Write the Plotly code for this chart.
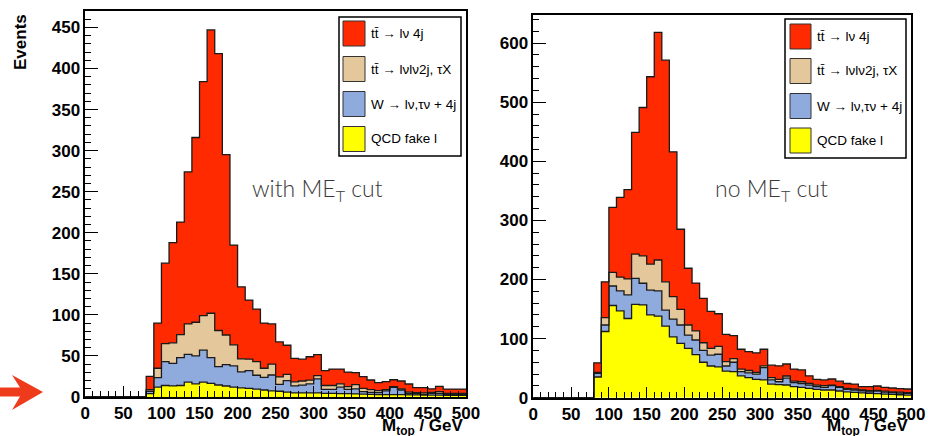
import numpy as np
import plotly.graph_objects as go

W, H = 928, 436

# bin left edges (GeV), 10 GeV bins, 0..500
bin_edges = list(range(0, 510, 10))
first_filled = 80  # bins below 80 GeV are empty

# ---------------- left panel: with MET cut (events per bin, per component) ----
left_qcd = [4, 12, 14, 13.5, 14, 18, 16, 18, 16.5, 14.6, 13.4, 12, 11.2, 10.5, 9.5, 8.5,
            7.5, 7, 6, 5, 5, 5, 5, 4.5, 4.5, 4, 4, 3.8, 3.5, 3.3, 3, 3, 3, 2.8, 2.5, 2.5,
            2.3, 2.2, 2.2, 2, 2, 2]
left_w = [3, 11.5, 29, 27.5, 34, 34, 34, 39, 31.5, 22.4, 26.1, 26, 19.3, 21.5, 17, 15.5,
          19.3, 8.4, 14, 8.5, 9.5, 11, 17, 4.8, 4.8, 8, 5.3, 6.2, 3, 2.4, 2.3, 4.5, 8.8,
          5.7, 1.5, 1.5, 0.9, 2.3, 2.3, 1.2, 1.2, 1.2]
left_ttdil = [2, 11.5, 22, 25, 28, 37, 41, 42, 54, 44, 36, 25.5, 16, 14, 16.5, 11, 13.2,
              9.1, 7.5, 5, 5, 4.5, 4, 4.7, 4.7, 4, 3.3, 5, 4, 3.3, 2.4, 1.5, 0.8, 1.5, 2,
              1.3, 1.8, 1.2, 2, 1.3, 1.3, 1.3]
left_ttsemi = [16, 55, 98, 122, 137, 185, 225, 285, 345, 337, 219.5, 121.5, 87.5, 72, 64,
               55, 49, 42.5, 35.5, 28.5, 26.5, 28.5, 25.5, 18, 20, 18, 17.8, 14.6, 14.2,
               11.7, 9.7, 9.7, 8.4, 9.5, 9.8, 6.1, 6.4, 4.3, 6.5, 5.2, 5.2, 5.2]

# ---------------- right panel: no MET cut -------------------------------------
right_qcd = [35, 112, 156, 147, 134, 158, 157, 140, 138, 121, 103, 92, 83.5, 73, 60, 53.6,
             52, 45, 44, 37, 34, 31, 30, 23, 22, 21.5, 18.6, 17.5, 15.8, 14, 13, 13, 11.3,
             10, 9, 8, 7.3, 6.8, 6.2, 5.6, 5, 4.5]
right_w = [6, 11, 33, 33.6, 40, 44, 36.6, 42, 42.6, 27, 30, 31, 22.5, 24.6, 20, 18.4, 21.5,
           8.6, 16, 7, 8, 9, 21, 7, 5, 11.5, 6.8, 6.5, 5.6, 4.6, 4.5, 7.3, 6.2, 4, 4, 3.8,
           2.7, 4.5, 3.4, 2.9, 2.9, 2.8]
right_ttdil = [2, 12.5, 23, 23.4, 27, 41, 46.4, 44, 52.4, 48, 38, 26.6, 17, 15.4, 13, 11.5,
               13.5, 7.4, 6, 4.5, 4, 3, 3, 4, 4, 3.7, 2.6, 3, 2.6, 2.8, 2.8, 1.1, 1.1, 1.8,
               1.7, 1.2, 1.8, 1.2, 1.4, 1.5, 1.6, 1.4]
right_ttsemi = [16, 60.5, 110, 135, 151, 206, 251, 317, 385, 375, 245, 135.4, 96, 81, 75,
                62.5, 55, 46, 39, 33.5, 32, 33, 28, 21, 23, 20.3, 20.5, 20, 13, 9.6, 9.7,
                10.2, 9.4, 8.2, 8.3, 5.6, 6.8, 7.3, 6.5, 6.4, 6, 6]

labels = ["tt\u0304 \u2192 l\u03bd 4j", "tt\u0304 \u2192 l\u03bdl\u03bd2j, \u03c4X",
          "W \u2192 l\u03bd,\u03c4\u03bd + 4j", "QCD fake l"]
panel_notes = ["with ME<sub>T</sub> cut", "no ME<sub>T</sub> cut"]

col_red = "#FF2A00"
col_tan = "#E4C79B"
col_blue = "#8FAADC"
col_yel = "#FFFF00"
edge = "#1a1a1a"


def full(vals):
    n_empty = first_filled // 10
    return np.array([0.0] * n_empty + list(vals))


fig = go.Figure()


def add_stack(comps, colors, xa, ya):
    cum = np.zeros(50)
    xs = np.array(bin_edges, dtype=float)
    for i, (v, c) in enumerate(zip(comps, colors)):
        cum = cum + full(v)
        ys = np.append(cum, cum[-1])
        fig.add_trace(go.Scatter(
            x=xs, y=ys, mode="lines", line=dict(shape="hv", color=edge, width=1.3),
            fill="tozeroy" if i == 0 else "tonexty", fillcolor=c,
            xaxis=xa, yaxis=ya, showlegend=False, hoverinfo="skip"))


colors = [col_yel, col_blue, col_tan, col_red]
add_stack([left_qcd, left_w, left_ttdil, left_ttsemi], colors, "x", "y")
add_stack([right_qcd, right_w, right_ttdil, right_ttsemi], colors, "x2", "y2")

tickfont = dict(family="Liberation Sans", size=17, color="black", weight=700)


def px(x):
    return x / W


def py(y):
    return 1 - y / H


common_x = dict(range=[0, 500], dtick=50, tick0=0, ticks="inside", ticklen=11, tickwidth=1,
                tickcolor="black", showline=True, linecolor="black", linewidth=1.5,
                mirror=True, showgrid=False, zeroline=False, tickfont=tickfont,
                automargin=False, ticklabelstandoff=0,
                minor=dict(dtick=10, ticks="inside", ticklen=6, tickcolor="black",
                           tickwidth=1, showgrid=False))
common_y = dict(ticks="inside", ticklen=13, tickwidth=1, tickcolor="black", showline=True,
                linecolor="black", linewidth=1.5, mirror=True, showgrid=False,
                zeroline=False, tickfont=tickfont, automargin=False)

fig.update_layout(
    width=W, height=H, margin=dict(l=0, r=0, t=0, b=0, autoexpand=False),
    paper_bgcolor="white", plot_bgcolor="white",
    xaxis=dict(domain=[px(85.3), px(466)], anchor="y", **common_x),
    yaxis=dict(domain=[py(397), py(11)], anchor="x", range=[0, 470], dtick=50,
               minor=dict(dtick=10, ticks="inside", ticklen=6, tickcolor="black",
                          showgrid=False), **common_y),
    xaxis2=dict(domain=[px(533.3), px(911.3)], anchor="y2", **common_x),
    yaxis2=dict(domain=[py(397.7), py(14.7)], anchor="x2", range=[0, 648], dtick=100,
                minor=dict(dtick=20, ticks="inside", ticklen=6, tickcolor="black",
                           showgrid=False), **common_y),
)

shapes = []
annots = []

# legends (box, swatches, texts)
legend_boxes = [dict(x0=339, x1=461, y0=17, y1=156, sx0=343, sx1=365, tx=369,
                     cy=[33.5, 69, 104, 139]),
                dict(x0=785, x1=906, y0=19, y1=158, sx0=790, sx1=811, tx=815,
                     cy=[36.5, 71, 106, 140.5])]
sw_cols = [col_red, col_tan, col_blue, col_yel]
for lb in legend_boxes:
    shapes.append(dict(type="rect", xref="paper", yref="paper", x0=px(lb["x0"]),
                       x1=px(lb["x1"]), y0=py(lb["y1"]), y1=py(lb["y0"]),
                       line=dict(color="black", width=1.5), fillcolor="white", layer="above"))
    for c, cy, lab in zip(sw_cols, lb["cy"], labels):
        shapes.append(dict(type="rect", xref="paper", yref="paper", x0=px(lb["sx0"]),
                           x1=px(lb["sx1"]), y0=py(cy + 12.5), y1=py(cy - 12.5),
                           line=dict(color="#333", width=1), fillcolor=c, layer="above"))
        annots.append(dict(xref="paper", yref="paper", x=px(lb["tx"]), y=py(cy),
                           xanchor="left", yanchor="middle", showarrow=False, text=lab,
                           font=dict(family="Liberation Sans", size=13.5, color="black")))

# panel notes
for note, x in zip(panel_notes, [250, 713]):
    annots.append(dict(xref="paper", yref="paper", x=px(x), y=py(190), xanchor="left",
                       yanchor="middle", showarrow=False, text=note,
                       font=dict(family="Lato", size=23, color="#3a3a3a", weight=300)))

# axis titles
for xr in [466, 911]:
    annots.append(dict(xref="paper", yref="paper", x=px(xr), y=py(414), xanchor="right",
                       yanchor="top", showarrow=False,
                       text="<b>M<sub>top</sub> / GeV</b>",
                       font=dict(family="Liberation Sans", size=17, color="black")))
annots.append(dict(xref="paper", yref="paper", x=px(21), y=py(42), xanchor="center",
                   yanchor="middle", showarrow=False, textangle=-90, text="<b>Events</b>",
                   font=dict(family="Liberation Sans", size=17, color="black")))

# red arrow pointing at the zero line
pts = [(0, 387.5), (20, 387.5), (12, 375), (43, 392), (12, 410), (20, 396.5), (0, 396.5)]
path = "M " + " L ".join(f"{px(a):.5f},{py(b):.5f}" for a, b in pts) + " Z"
shapes.append(dict(type="path", xref="paper", yref="paper", path=path,
                   fillcolor="#EE3B1B", line=dict(width=0)))

fig.update_layout(shapes=shapes, annotations=annots)
fig.write_html("out.html")
